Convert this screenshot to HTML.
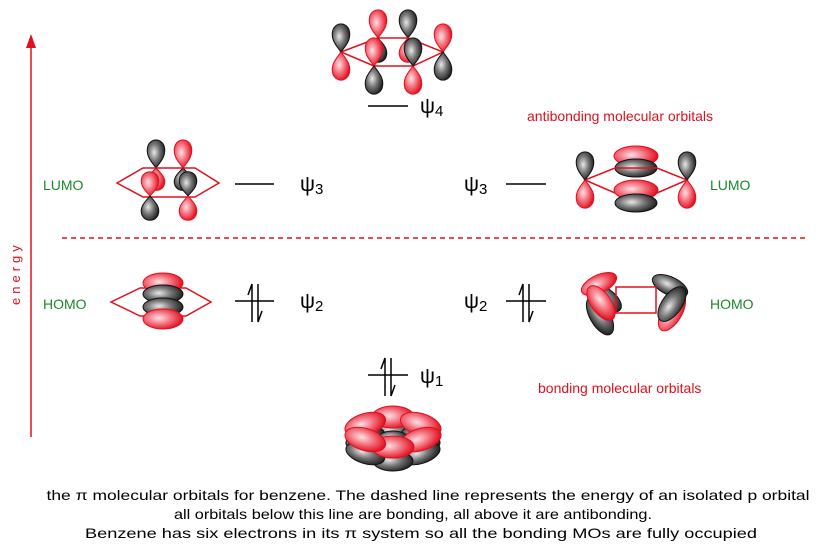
<!DOCTYPE html>
<html><head><meta charset="utf-8"><style>
html,body{margin:0;padding:0;background:#fff;}
svg{display:block;font-family:"Liberation Sans",sans-serif;}
</style></head><body>
<svg id="d" width="823" height="559" viewBox="0 0 823 559">
<defs>
<radialGradient id="gr" cx="0.4" cy="0.45" r="0.6"><stop offset="0" stop-color="#ffe0e4"/><stop offset="0.55" stop-color="#f26a78"/><stop offset="1" stop-color="#e0101e"/></radialGradient>
<radialGradient id="gk" cx="0.4" cy="0.45" r="0.6"><stop offset="0" stop-color="#e8e8e8"/><stop offset="0.5" stop-color="#777"/><stop offset="1" stop-color="#222"/></radialGradient>
</defs>
<line x1="31" y1="437" x2="31" y2="42" stroke="#e0101e" stroke-width="1.5"/>
<path d="M26,48 L31,34 L36,48 Z" fill="#e0101e"/>
<text transform="translate(20,305) rotate(-90)" fill="#e0101e" font-size="13" letter-spacing="4">energy</text>
<line x1="62" y1="238" x2="806" y2="238" stroke="#e0101e" stroke-width="1.5" stroke-dasharray="5,4"/>
<g id="orb"></g>
<g stroke="#000" stroke-width="1.5">
<line x1="368" y1="106" x2="408" y2="106"/>
<line x1="235" y1="184" x2="274" y2="184"/>
<line x1="506" y1="184" x2="546" y2="184"/>
<line x1="235" y1="301" x2="274" y2="301"/>
<line x1="506" y1="301" x2="546" y2="301"/>
<line x1="368" y1="375" x2="408" y2="375"/>
</g>
<g id="elec"></g>
<g font-size="21" fill="#000">
<text x="420" y="113">ψ<tspan font-size="15" dy="3">4</tspan></text>
<text x="300" y="191">ψ<tspan font-size="15" dy="3">3</tspan></text>
<text x="464" y="191">ψ<tspan font-size="15" dy="3">3</tspan></text>
<text x="300" y="308">ψ<tspan font-size="15" dy="3">2</tspan></text>
<text x="464" y="308">ψ<tspan font-size="15" dy="3">2</tspan></text>
<text x="420" y="383">ψ<tspan font-size="15" dy="3">1</tspan></text>
</g>
<g font-size="14" fill="#1a8a2a">
<text x="43" y="190">LUMO</text>
<text x="43" y="309">HOMO</text>
<text x="710" y="190">LUMO</text>
<text x="710" y="309">HOMO</text>
</g>
<text x="527" y="121" font-size="14" fill="#e0101e">antibonding molecular orbitals</text>
<text x="538" y="393" font-size="14" fill="#e0101e">bonding molecular orbitals</text>
<g font-size="14" fill="#000" text-anchor="middle">
<text x="428" y="500" textLength="763" lengthAdjust="spacingAndGlyphs">the π molecular orbitals for benzene.  The dashed line represents the energy of an isolated p orbital</text>
<text x="413" y="519" textLength="478" lengthAdjust="spacingAndGlyphs">all orbitals below this line are bonding, all above it are antibonding.</text>
<text x="421" y="538" textLength="672" lengthAdjust="spacingAndGlyphs">Benzene has six electrons in its π system so all the bonding MOs are fully occupied</text>
</g>
</svg>
<script>
var NS="http://www.w3.org/2000/svg";
var orb=document.getElementById('orb');
function mk(tag,attrs,parent){var e=document.createElementNS(NS,tag);for(var k in attrs)e.setAttribute(k,attrs[k]);(parent||orb).appendChild(e);return e;}
function lobe(x,y,dir,col,h,w){h=h||28;w=w||8;var t=y+dir*h;
var d="M"+x+","+y+" C"+(x-w*0.5)+","+(y+dir*h*0.2)+" "+(x-w*1.4)+","+(y+dir*h*0.45)+" "+(x-w)+","+(y+dir*h*0.8)+" C"+(x-w*0.6)+","+(t+dir*2)+" "+(x+w*0.6)+","+(t+dir*2)+" "+(x+w)+","+(y+dir*h*0.8)+" C"+(x+w*1.4)+","+(y+dir*h*0.45)+" "+(x+w*0.5)+","+(y+dir*h*0.2)+" "+x+","+y+" Z";
var p=mk('path',{d:d,fill:col=='r'?'url(#gr)':'url(#gk)',stroke:col=='r'?'#e0101e':'#111','stroke-width':1});

}
function ell(cx,cy,rx,ry,col,rot){var e=mk('ellipse',{cx:cx,cy:cy,rx:rx,ry:ry,fill:col=='r'?'url(#gr)':'url(#gk)',stroke:col=='r'?'#e0101e':'#111','stroke-width':1,transform:'rotate('+(rot||0)+' '+cx+' '+cy+')'});

}
function hex(pts){var p=mk('polygon',{points:pts.map(function(a){return a.join(',')}).join(' '),fill:'none',stroke:'#e0101e','stroke-width':1.5});

}
// psi4
lobe(378,38,-1,'r');lobe(408,38,-1,'k');lobe(378,38,1,'k',24);lobe(408,38,1,'r',24);
hex([[341,52],[378,38],[408,38],[443,52],[413,66],[374,66]]);
lobe(341,52,-1,'k');lobe(341,52,1,'r');lobe(443,52,-1,'r');lobe(443,52,1,'k');
lobe(374,66,-1,'r');lobe(374,66,1,'k');lobe(413,66,-1,'k');lobe(413,66,1,'r');
// left psi3
lobe(156,168,-1,'k');lobe(183,168,-1,'r');lobe(156,168,1,'r',22);lobe(183,168,1,'k',22);
hex([[117,183],[143,168],[195,168],[219,183],[195,197],[143,197]]);
lobe(150,196,-1,'r',24);lobe(150,196,1,'k',24);lobe(188,196,-1,'k',24);lobe(188,196,1,'r',24);
// left psi2
hex([[111,302],[140,288],[186,288],[211,302],[186,316],[140,316]]);
ell(163,283,20,10,'r');ell(163,294,20,9,'k');ell(163,307,20,9,'k');ell(163,319,20,10,'r');
// right psi3
ell(636,156,22,10,'r');ell(636,168,21,9,'k');
hex([[585,180],[615,168],[657,168],[687,180],[657,193],[615,193]]);
ell(636,190,22,10,'r');ell(636,203,21,9,'k');
lobe(585,180,-1,'k');lobe(585,180,1,'r');lobe(687,180,-1,'k');lobe(687,180,1,'r');
// right psi2
ell(604,298,20,10,'k',35);
ell(600,316,21,10,'k',60);
ell(599,284,19,9,'r',-25);
ell(601,303,20,10,'r',55);
ell(672,312,21,10,'r',-60);
ell(670,286,19,9,'k',25);
ell(672,304,20,10,'k',-55);
var r=mk('polygon',{points:'616,287 656,287 656,313 616,313',fill:'none',stroke:'#e0101e','stroke-width':1.5});


// psi1 torus
var cx=393,cy=432,RX=32,RY=15;
var ang=[270,330,30,90,150,210];
function rot(a){return Math.cos(a*Math.PI/180)*Math.sin(a*Math.PI/180)*-40;}
ang.forEach(function(a){var s=a*Math.PI/180;if(Math.sin(s)<0)ell(cx+RX*Math.cos(s),cy+14+RY*Math.sin(s),20,10,'k',rot(a));});
ang.forEach(function(a){var s=a*Math.PI/180;if(Math.sin(s)>0)ell(cx+RX*Math.cos(s),cy+14+RY*Math.sin(s),20,10,'k',rot(a));});
ang.forEach(function(a){var s=a*Math.PI/180;if(Math.sin(s)<0)ell(cx+RX*Math.cos(s),cy+RY*Math.sin(s),21,11,'r',rot(a));});
ell(cx,cy+5,14,6,'k');
ang.forEach(function(a){var s=a*Math.PI/180;if(Math.sin(s)>0)ell(cx+RX*Math.cos(s),cy+RY*Math.sin(s),21,11,'r',rot(a));});
// electron pairs
var eg=document.getElementById('elec');
[[252,301],[523,301],[385,375]].forEach(function(c){
var u=mk('path',{d:'M'+c[0]+','+(c[1]+21)+' L'+c[0]+','+(c[1]-17)+' L'+(c[0]-4)+','+(c[1]-6),fill:'none',stroke:'#000','stroke-width':1.5},eg);


var dn=mk('path',{d:'M'+(c[0]+6)+','+(c[1]-17)+' L'+(c[0]+6)+','+(c[1]+21)+' L'+(c[0]+10)+','+(c[1]+10),fill:'none',stroke:'#000','stroke-width':1.5},eg);

});
</script>
</body></html>
